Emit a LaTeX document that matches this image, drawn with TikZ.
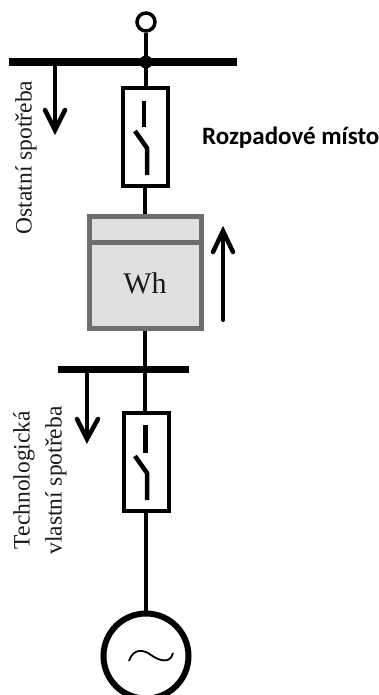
\documentclass[tikz,border=0pt]{standalone}
\usepackage{fontspec}
\setmainfont{Liberation Serif}
\newfontfamily\carl{Carlito}
\definecolor{metergray}{HTML}{6E6E6E}
\definecolor{meterfill}{HTML}{E0E0E0}
\definecolor{serifink}{HTML}{1A1A1A}
\tikzset{
  wire/.style={line width=4pt,black},
  busbar/.style={line width=7.5pt,black},
  swbox/.style={draw=black,line width=4pt,fill=white,minimum width=45pt,minimum height=98pt,inner sep=0pt},
  contact/.style={line width=4.5pt,black},
  flowshaft/.style={line width=4pt,black,line cap=round},
  flowhead/.style={line width=4.5pt,black,line cap=round,line join=miter,miter limit=10},
  vtext/.style={rotate=90,text=serifink,inner sep=0pt,font=\fontsize{23.5}{23.5}\selectfont},
  meterbox/.style={draw=metergray,line width=5pt,fill=meterfill,inner sep=0pt}
}
\begin{document}
\begin{tikzpicture}[x=1pt,y=-1pt]
\useasboundingbox (0,0) rectangle (379,695);
\clip (0,0) rectangle (379,695);
% coordinates
\coordinate (busA) at (146,62);
\coordinate (busAl) at (9,62);
\coordinate (busAr) at (237,62);
\coordinate (busB) at (146,369.5);
\coordinate (busBl) at (58,369.5);
\coordinate (busBr) at (189,369.5);
\coordinate (brA) at (55,62);
\coordinate (brAend) at (55,130);
\coordinate (brB) at (87,369.5);
\coordinate (brBend) at (87,439);
% nodes
\node[circle,draw=black,line width=3.5pt,fill=white,minimum size=18pt,inner sep=0pt] (term) at (146,22) {};
\node[swbox] (sw1) at (145,137) {};
\node[swbox] (sw2) at (146.5,461.5) {};
\node[meterbox,minimum width=112pt,minimum height=112pt] (meter) at (145,272) {};
\node[circle,draw=black,line width=6pt,fill=white,minimum size=85pt,inner sep=0pt] (gen) at (146,656) {};
% wires
\draw[wire] (term) -- (sw1.north -| term);
\draw[wire] (sw1) -- (meter);
\draw[line width=4pt] (meter.south) -- (sw2.north -| meter.south);
\draw[wire] (sw2.south -| gen) -- (gen.north);
% busbars
\draw[busbar] (busAl) -- (busAr);
\fill (busA) circle (6.5pt);
\draw[busbar] (busBl) -- (busBr);
% meter divider
\draw[draw=metergray,line width=5pt] (meter.west |- 0,242) -- (meter.east |- 0,242);
\node[inner sep=0pt,text=serifink,font=\fontsize{30}{30}\selectfont] (wh) at (145,283) {Wh};
% switches
\draw[contact] (144,101) -- (144,127);
\draw[contact,line join=round] (135,131) -- (147,148) -- (147,175);
\draw[contact] (145.5,425) -- (145.5,453);
\draw[contact,line join=round] (135,456) -- (147,473) -- (147,500);
% load arrows
\draw[flowshaft] (brA) -- (brAend);
\draw[flowhead] (45,110) -- (brAend) -- (65,110);
\draw[flowshaft] (brB) -- (brBend);
\draw[flowhead] (77,419) -- (brBend) -- (98,419);
% power arrow
\coordinate (upTip) at (223,231);
\coordinate (upEnd) at (223,320);
\draw[flowshaft] (upEnd) -- (upTip);
\draw[flowhead] (213,252) -- (upTip) -- (233,252);
% tilde
\draw[line width=1.8pt,black] (129,661) .. controls (134,646) and (146,651) .. (151,655) .. controls (158,660) and (170,665) .. (173,653);
% labels
\node[vtext] (lblA) at (26,157.5) {Ostatní spotřeba};
\node[vtext] (lblB) at (24,480) {Technologická};
\node[vtext] (lblC) at (56,480.5) {vlastní spotřeba};
\node[anchor=base west,inner sep=0pt,font=\carl\bfseries\fontsize{25}{25}\selectfont] (lblD) at (202,145) {Rozpadové místo};
\end{tikzpicture}
\end{document}
